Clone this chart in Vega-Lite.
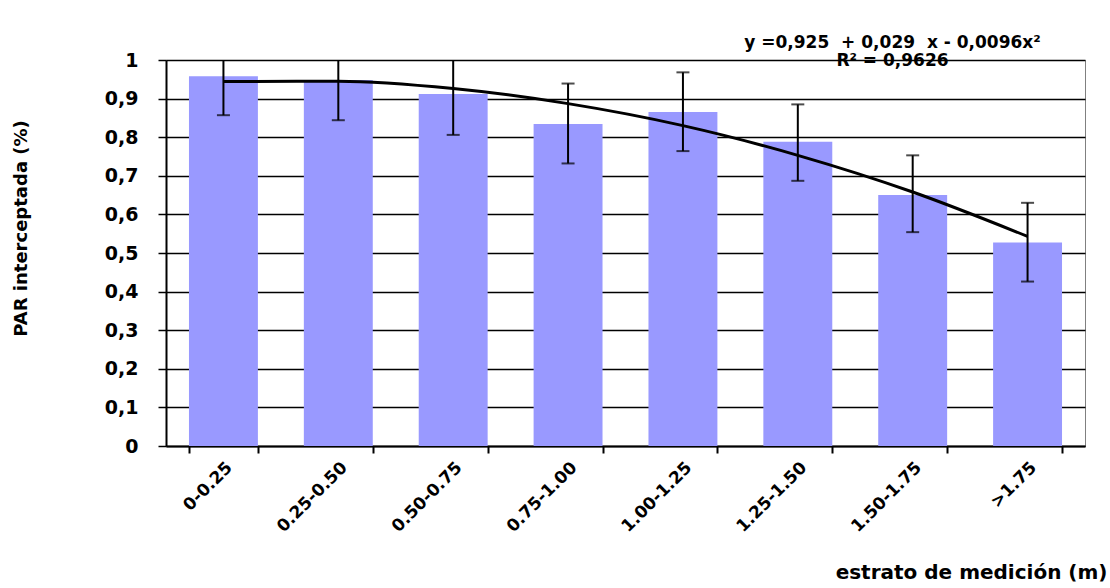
{
  "$schema": "https://vega.github.io/schema/vega-lite/v6.json",
  "width": 919,
  "height": 386,
  "autosize": {"type": "none"},
  "padding": {"left": 166, "top": 60, "right": 25, "bottom": 142},
  "background": "white",
  "config": {
    "font": "DejaVu Sans",
    "view": {"stroke": "#808080", "strokeWidth": 1}
  },
  "title": {
    "text": ["y =0,925\u00a0 + 0,029\u00a0 x - 0,0096x²", "R² = 0,9626"],
    "anchor": "middle",
    "dx": 267,
    "offset": -19,
    "fontSize": 17,
    "fontWeight": "bold",
    "color": "black",
    "lineHeight": 18
  },
  "data": {
    "values": [
      {"estrato": "0-0.25", "par": 0.958, "lo": 0.857, "hi": 1.058, "tendencia": 0.944},
      {"estrato": "0.25-0.50", "par": 0.948, "lo": 0.844, "hi": 1.052, "tendencia": 0.945},
      {"estrato": "0.50-0.75", "par": 0.912, "lo": 0.806, "hi": 1.018, "tendencia": 0.926},
      {"estrato": "0.75-1.00", "par": 0.834, "lo": 0.732, "hi": 0.939, "tendencia": 0.887},
      {"estrato": "1.00-1.25", "par": 0.865, "lo": 0.764, "hi": 0.968, "tendencia": 0.830},
      {"estrato": "1.25-1.50", "par": 0.788, "lo": 0.687, "hi": 0.885, "tendencia": 0.753},
      {"estrato": "1.50-1.75", "par": 0.650, "lo": 0.554, "hi": 0.753, "tendencia": 0.658},
      {"estrato": ">1.75", "par": 0.527, "lo": 0.426, "hi": 0.630, "tendencia": 0.543}
    ]
  },
  "encoding": {
    "x": {
      "field": "estrato",
      "type": "nominal",
      "sort": null,
      "scale": {"paddingInner": 0.4, "paddingOuter": 0.2},
      "axis": {
        "title": "estrato de medición (m)",
        "titleFontSize": 20,
        "titleFontWeight": "bold",
        "titleColor": "black",
        "titleAnchor": "end",
        "titleAlign": "right",
        "titleX": 941,
        "titleY": 132,
        "titleBaseline": "alphabetic",
        "labelAngle": -45,
        "labelFontSize": 17,
        "labelFontWeight": "bold",
        "labelColor": "black",
        "labelPadding": 6,
        "labelOverlap": false,
        "tickBand": "extent",
        "tickSize": 7,
        "tickWidth": 2,
        "tickColor": "black",
        "domainColor": "black",
        "domainWidth": 2,
        "grid": false
      }
    },
    "y": {
      "field": "par",
      "type": "quantitative",
      "scale": {"domain": [0, 1], "nice": false},
      "axis": {
        "title": "PAR interceptada (%)",
        "titleFontSize": 18,
        "titleFontWeight": "bold",
        "titleColor": "black",
        "titleAngle": 270,
        "titleX": -145,
        "titleY": 168,
        "titleAlign": "center",
        "titleBaseline": "middle",
        "values": [0, 0.1, 0.2, 0.3, 0.4, 0.5, 0.6, 0.7, 0.8, 0.9, 1],
        "labelExpr": "replace(format(datum.value, '~g'), '.', ',')",
        "labelOverlap": false,
        "labelFontSize": 19,
        "labelFontWeight": "bold",
        "labelColor": "black",
        "labelPadding": 20,
        "tickSize": 8,
        "tickWidth": 1.5,
        "tickColor": "black",
        "domainColor": "black",
        "domainWidth": 2,
        "grid": true,
        "gridColor": "black",
        "gridWidth": 1.5,
        "gridOpacity": 1
      }
    }
  },
  "layer": [
    {
      "mark": {"type": "bar", "color": "#9999ff"}
    },
    {
      "mark": {"type": "rule", "color": "black", "strokeWidth": 2, "clip": true},
      "encoding": {
        "y": {"field": "lo", "type": "quantitative"},
        "y2": {"field": "hi"}
      }
    },
    {
      "mark": {"type": "tick", "color": "black", "size": 13, "thickness": 2, "orient": "horizontal", "clip": true},
      "encoding": {"y": {"field": "lo", "type": "quantitative"}}
    },
    {
      "mark": {"type": "tick", "color": "black", "size": 13, "thickness": 2, "orient": "horizontal", "clip": true},
      "encoding": {"y": {"field": "hi", "type": "quantitative"}}
    },
    {
      "mark": {"type": "line", "color": "black", "strokeWidth": 3, "interpolate": "monotone"},
      "encoding": {"y": {"field": "tendencia", "type": "quantitative"}}
    }
  ]
}
